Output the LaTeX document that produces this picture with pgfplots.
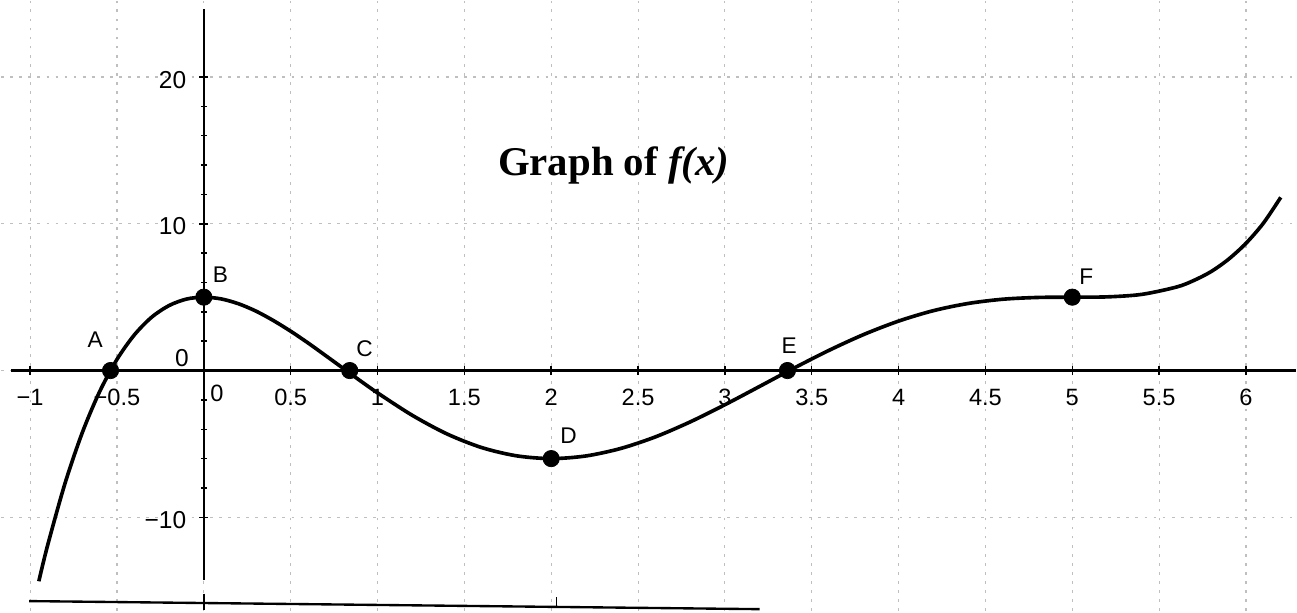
\documentclass[border=0pt]{standalone}
\usepackage{pgfplots}
\pgfplotsset{compat=1.18}
\usepackage{fontspec}
\setmainfont{Liberation Sans}
\newfontfamily\titlefont{Liberation Serif}
\begin{document}
\begin{tikzpicture}
\begin{axis}[
  scale only axis, width=713.35pt, height=336.05pt,
  xmin=-1.1667, xmax=6.287, ymin=-16.39, ymax=25.17,
  axis lines=middle,
  axis line style={line width=1.3pt, -},
  x axis line style={shorten <=5.5pt},
  y axis line style={shorten <=16.9pt, shorten >=4.4pt},
  xtick={-1,-0.5,0,0.5,1,1.5,2,2.5,3,3.5,4,4.5,5,5.5,6},
  xticklabels={−1,−0.5,,0.5,1,1.5,2,2.5,3,3.5,4,4.5,5,5.5,6},
  ytick={-10,0,10,20},
  yticklabels={−10,,10,20},
  minor y tick num=4,
  hide obscured x ticks=false, hide obscured y ticks=false,
  grid=major,
  grid style={gray!50, line width=0.6pt, dash pattern=on 1.5pt off 3.5pt},
  tick style={black, line width=0.8pt},
  major tick length=5pt, minor tick length=3pt,
  tick align=center,
  xticklabel style={font=\fontsize{13}{15}\selectfont, anchor=center, yshift=-12.4pt, inner sep=0pt},
  yticklabel style={font=\fontsize{13.5}{15}\selectfont, anchor=east, xshift=-7pt, yshift=-1.5pt, inner sep=0pt},
]
\addplot[black, line width=2pt, smooth] coordinates {
(-0.95,-14.36) (-0.9,-11.94) (-0.8,-7.72) (-0.7,-4.24) (-0.6,-1.44) (-0.5,0.76)
(-0.4,2.43) (-0.3,3.64) (-0.2,4.43) (-0.1,4.87) (0,5)
(0.1,4.88) (0.2,4.55) (0.3,4.05) (0.4,3.41) (0.5,2.68) (0.6,1.88) (0.7,1.03)
(0.8,0.17) (0.9,-0.69) (1.0,-1.52) (1.2,-3.05)
(1.4,-4.32) (1.6,-5.25) (1.8,-5.81) (2.0,-6.0) (2.2,-5.82) (2.4,-5.31)
(2.6,-4.52) (2.8,-3.50) (3.0,-2.33) (3.2,-1.08) (3.4,0.18) (3.6,1.38)
(3.8,2.46) (4.0,3.37) (4.2,4.08) (4.4,4.57) (4.6,4.86) (4.8,4.98)
(5.0,5.0) (5.2,5.02) (5.4,5.19) (5.6,5.69) (5.7,6.14) (5.8,6.75) (5.9,7.59)
(6.0,8.67) (6.1,10.04) (6.2,11.8)
};
\addplot[only marks, mark=*, mark size=4.5pt, black] coordinates {
(-0.537,0) (0,5) (0.84,0) (2,-6) (3.36,0) (5,5)
};
% point labels
\node[font=\fontsize{12.5}{14}\selectfont] at (axis cs:-0.626,2.1) {A};
\node[font=\fontsize{12.5}{14}\selectfont] at (axis cs:0.095,6.53) {B};
\node[font=\fontsize{12.5}{14}\selectfont] at (axis cs:0.925,1.5) {C};
\node[font=\fontsize{12.5}{14}\selectfont] at (axis cs:2.10,-4.42) {D};
\node[font=\fontsize{12.5}{14}\selectfont] at (axis cs:3.37,1.7) {E};
\node[font=\fontsize{12.5}{14}\selectfont] at (axis cs:5.08,6.4) {F};
% zero labels
\node[font=\fontsize{13}{15}\selectfont, inner sep=0pt, xshift=7.2pt, yshift=-12.4pt] at (axis cs:0,0) {0};
\node[font=\fontsize{13.5}{15}\selectfont, inner sep=0pt, xshift=-12pt, yshift=6.6pt] at (axis cs:0,0) {0};
% title
\node[font=\titlefont\bfseries\fontsize{22.5}{27}\selectfont, anchor=base] at (axis cs:2.36,13.27) {Graph of \textit{f(x)}};
% scan line at bottom
\draw[line width=1.3pt] (axis cs:-1.006,-15.71) -- (axis cs:3.2,-16.26);
\draw[line width=1pt] (axis cs:0,-15.2) -- (axis cs:0,-16.3);
\draw[line width=1pt] (axis cs:2.03,-15.44) -- (axis cs:2.03,-16.19);
\end{axis}
\end{tikzpicture}
\end{document}
